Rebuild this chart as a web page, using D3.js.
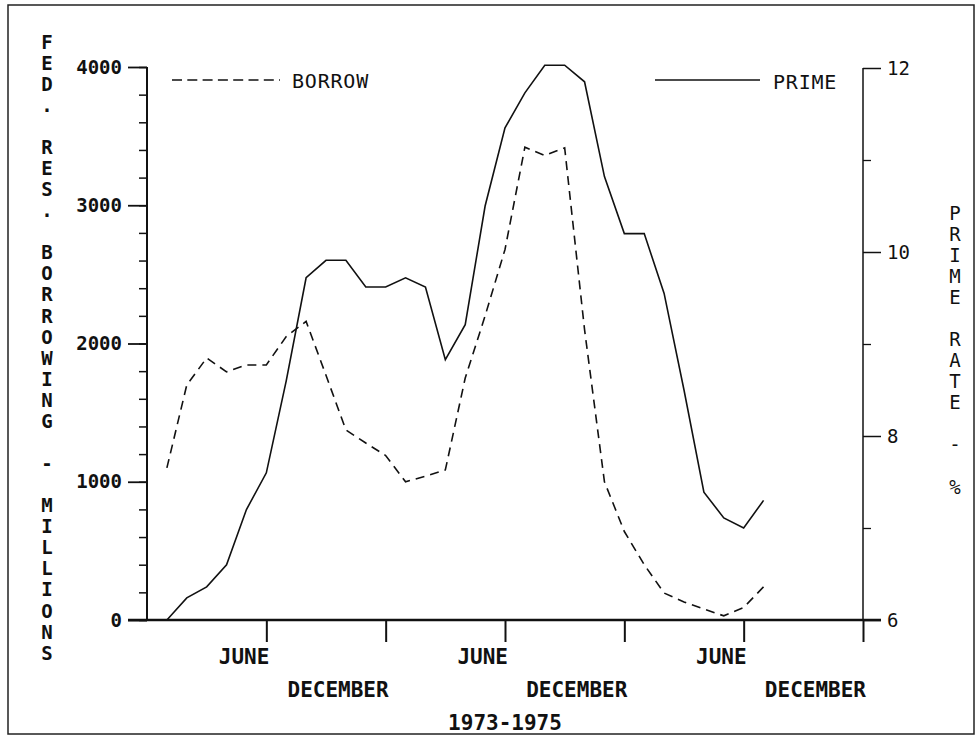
<!DOCTYPE html>
<html>
<head>
<meta charset="utf-8">
<script src="https://cdn.jsdelivr.net/npm/d3@7"></script>
<style>
  body { margin: 0; background: #fff; }
  svg text { font-family: "DejaVu Sans Mono", monospace; fill: #111; }
  .bold { font-weight: bold; }
</style>
</head>
<body>
<div id="chart"></div>
<script>
// months from Dec 1972 (index 0) to Jul 1975
const months = ["Dec 72", "Jan 73", "Feb 73", "Mar 73", "Apr 73", "May 73", "Jun 73", "Jul 73",
  "Aug 73", "Sep 73", "Oct 73", "Nov 73", "Dec 73", "Jan 74", "Feb 74", "Mar 74", "Apr 74",
  "May 74", "Jun 74", "Jul 74", "Aug 74", "Sep 74", "Oct 74", "Nov 74", "Dec 74", "Jan 75",
  "Feb 75", "Mar 75", "Apr 75", "May 75", "Jun 75", "Jul 75"];

// fed. res. borrowing, millions
const borrow = [null, 1100, 1700, 1895, 1795, 1845, 1845, 2050, 2160, 1770, 1375, 1280, 1190,
  1000, 1040, 1085, 1750, 2200, 2680, 3420, 3360, 3415, 2100, 1000, 640, 400, 195, 130, 80,
  30, 90, 240];

// prime rate, %
const prime = [6.0, 6.0, 6.24, 6.36, 6.6, 7.2, 7.6, 8.6, 9.72, 9.91, 9.91, 9.62, 9.62, 9.72,
  9.62, 8.83, 9.21, 10.5, 11.35, 11.73, 12.03, 12.03, 11.85, 10.82, 10.2, 10.2, 9.55, 8.5,
  7.39, 7.11, 7.0, 7.3];

const xTicks = [6, 12, 18, 24, 30, 36];
const xTickLabels = ["JUNE", "DECEMBER", "JUNE", "DECEMBER", "JUNE", "DECEMBER"];
const leftTicks = [0, 1000, 2000, 3000, 4000];
const rightTicks = [6, 8, 10, 12];

const W = 979, H = 737;
let svg = d3.select("#chart").append("svg")
  .attr("width", W)
  .attr("height", H);

// frame
svg.append("rect")
  .attr("x", 8).attr("y", 5)
  .attr("width", 966).attr("height", 729)
  .attr("fill", "none")
  .attr("stroke", "#222")
  .attr("stroke-width", 1.5);

let x = d3.scaleLinear().domain([0, 36]).range([147, 863]);
let yL = d3.scaleLinear().domain([0, 4000]).range([620, 67]);
let yR = d3.scaleLinear().domain([6, 12]).range([620, 68]);

// left axis: minor then major ticks
svg.append("g")
  .attr("transform", "translate(" + x(0) + ",0)")
  .call(d3.axisLeft(yL).tickValues(d3.range(0, 4001, 200)).tickSize(8).tickFormat(""))
  .call(g => g.select(".domain").remove())
  .call(g => g.selectAll("line").attr("stroke", "#111").attr("stroke-width", 1.5));

svg.append("g")
  .attr("class", "bold")
  .attr("transform", "translate(" + x(0) + ",0)")
  .call(d3.axisLeft(yL).tickValues(leftTicks).tickSize(19).tickPadding(6).tickFormat(d3.format("d")))
  .call(g => g.select(".domain").remove())
  .call(g => g.selectAll("line").attr("stroke", "#111").attr("stroke-width", 1.8))
  .call(g => g.selectAll("text").attr("font-size", 19).attr("font-weight", "bold")
    .attr("font-family", "DejaVu Sans Mono").attr("fill", "#111"));

svg.append("line")
  .attr("x1", x(0)).attr("x2", x(0))
  .attr("y1", yL(4000)).attr("y2", yL(0))
  .attr("stroke", "#111").attr("stroke-width", 2);

// right axis
svg.append("g")
  .attr("transform", "translate(" + x(36) + ",0)")
  .call(d3.axisRight(yR).tickValues([7, 9, 11]).tickSize(8).tickFormat(""))
  .call(g => g.select(".domain").remove())
  .call(g => g.selectAll("line").attr("stroke", "#111").attr("stroke-width", 1.3));

svg.append("g")
  .attr("transform", "translate(" + x(36) + ",0)")
  .call(d3.axisRight(yR).tickValues(rightTicks).tickSize(18).tickPadding(6).tickFormat(d3.format("d")))
  .call(g => g.select(".domain").remove())
  .call(g => g.selectAll("line").attr("stroke", "#111").attr("stroke-width", 1.5))
  .call(g => g.selectAll("text").attr("font-size", 19)
    .attr("font-family", "DejaVu Sans Mono").attr("fill", "#222"));

svg.append("line")
  .attr("x1", x(36)).attr("x2", x(36))
  .attr("y1", yR(12)).attr("y2", yR(6))
  .attr("stroke", "#111").attr("stroke-width", 1.5);

// bottom axis
svg.append("g")
  .attr("transform", "translate(0," + yL(0) + ")")
  .call(d3.axisBottom(x).tickValues(xTicks).tickSize(22).tickFormat(""))
  .call(g => g.select(".domain").remove())
  .call(g => g.selectAll("line").attr("stroke", "#111").attr("stroke-width", 2));

svg.append("line")
  .attr("x1", x(0) - 19).attr("x2", x(36) + 18)
  .attr("y1", yL(0)).attr("y2", yL(0))
  .attr("stroke", "#111").attr("stroke-width", 2.6);

svg.selectAll(".xlab")
  .data(xTicks)
  .enter()
  .append("text")
  .attr("class", "xlab bold")
  .attr("x", d => x(d) + 3)
  .attr("y", (d, i) => i % 2 === 0 ? 664 : 697)
  .attr("text-anchor", "end")
  .attr("font-size", 21)
  .text((d, i) => xTickLabels[i]);

svg.append("text")
  .attr("class", "bold")
  .attr("x", 505)
  .attr("y", 730)
  .attr("text-anchor", "middle")
  .attr("font-size", 21)
  .text("1973-1975");

// stacked axis titles
function stacked(str, cx, cy0, bold) {
  svg.append("g").selectAll("text")
    .data(str.split(""))
    .enter()
    .append("text")
    .attr("class", bold ? "bold" : null)
    .attr("x", cx)
    .attr("y", (d, i) => cy0 + i * 21.07)
    .attr("dy", "0.35em")
    .attr("text-anchor", "middle")
    .attr("font-size", 19)
    .text(d => d);
}
stacked("FED. RES. BORROWING - MILLIONS", 47, 42, true);
stacked("PRIME RATE - %", 955, 213, false);

// lines
let borrowLine = d3.line()
  .defined(d => d != null)
  .x((d, i) => x(i))
  .y(d => yL(d));

let primeLine = d3.line()
  .x((d, i) => x(i))
  .y(d => yR(d));

svg.append("path")
  .datum(borrow)
  .attr("d", borrowLine)
  .attr("fill", "none")
  .attr("stroke", "#111")
  .attr("stroke-width", 1.6)
  .attr("stroke-dasharray", "9,6");

svg.append("path")
  .datum(prime)
  .attr("d", primeLine)
  .attr("fill", "none")
  .attr("stroke", "#111")
  .attr("stroke-width", 1.6);

// legend
svg.append("line")
  .attr("x1", 172).attr("x2", 280)
  .attr("y1", 80).attr("y2", 80)
  .attr("stroke", "#111").attr("stroke-width", 1.6)
  .attr("stroke-dasharray", "10,5.3");
svg.append("text")
  .attr("x", 292).attr("y", 81)
  .attr("dy", "0.35em")
  .attr("font-size", 20)
  .attr("letter-spacing", 0.8)
  .text("BORROW");

svg.append("line")
  .attr("x1", 655).attr("x2", 760)
  .attr("y1", 80).attr("y2", 80)
  .attr("stroke", "#111").attr("stroke-width", 1.5);
svg.append("text")
  .attr("x", 773).attr("y", 82)
  .attr("dy", "0.35em")
  .attr("font-size", 20)
  .attr("letter-spacing", 0.8)
  .text("PRIME");
</script>
</body>
</html>
